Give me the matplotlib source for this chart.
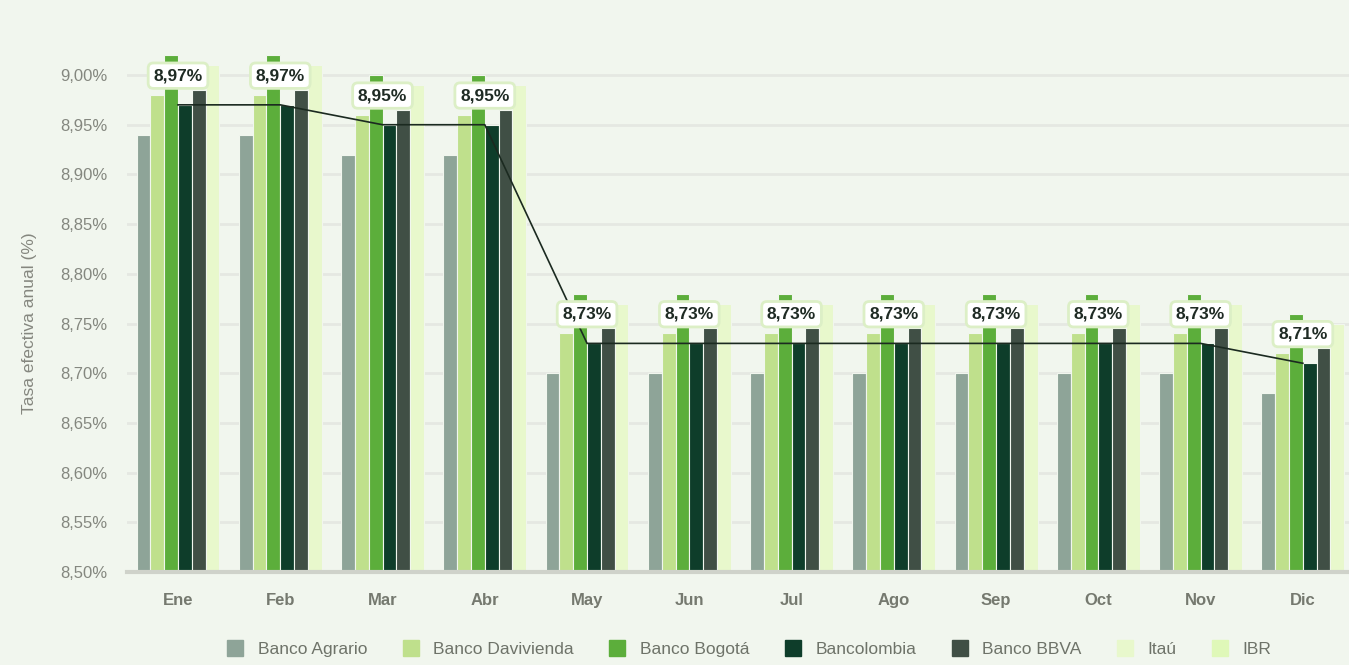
import matplotlib.pyplot as plt
import numpy as np
from matplotlib.lines import Line2D

meses = ['Ene', 'Feb', 'Mar', 'Abr', 'May', 'Jun', 'Jul', 'Ago', 'Sep', 'Oct', 'Nov', 'Dic']

agrario = [8.94, 8.94, 8.92, 8.92, 8.70, 8.70, 8.70, 8.70, 8.70, 8.70, 8.70, 8.68]
davivienda = [8.98, 8.98, 8.96, 8.96, 8.74, 8.74, 8.74, 8.74, 8.74, 8.74, 8.74, 8.72]
bogota = [9.02, 9.02, 9.00, 9.00, 8.78, 8.78, 8.78, 8.78, 8.78, 8.78, 8.78, 8.76]
bancolombia = [8.97, 8.97, 8.95, 8.95, 8.73, 8.73, 8.73, 8.73, 8.73, 8.73, 8.73, 8.71]
bbva = [8.985, 8.985, 8.965, 8.965, 8.745, 8.745, 8.745, 8.745, 8.745, 8.745, 8.745, 8.725]
itau = [9.01, 9.01, 8.99, 8.99, 8.77, 8.77, 8.77, 8.77, 8.77, 8.77, 8.77, 8.75]
ibr = [8.97, 8.97, 8.95, 8.95, 8.73, 8.73, 8.73, 8.73, 8.73, 8.73, 8.73, 8.71]

series = [agrario, davivienda, bogota, bancolombia, bbva, itau]
nombres = ['Banco Agrario', 'Banco Davivienda', 'Banco Bogotá', 'Bancolombia', 'Banco BBVA', 'Itaú']
colores = ['#8ea498', '#bfe08c', '#5cae3b', '#0e3d2a', '#404f45', '#e8f8cc']
color_ibr = '#dff8b8'
bg = '#f1f6ee'

plt.rcParams['font.family'] = ['Liberation Sans', 'DejaVu Sans']

fig = plt.figure(figsize=(13.49, 6.65), dpi=100)
fig.patch.set_facecolor(bg)
ax = fig.add_axes([126.9 / 1349, 93 / 665, (1354 - 126.9) / 1349, (572 - 15.4) / 665])
ax.set_facecolor(bg)

x = np.arange(len(meses))
w = 0.135
for i, (vals, c) in enumerate(zip(series, colores)):
    ax.bar(x + (i - 2.5) * w, np.array(vals) - 8.5, width=w, bottom=8.5, color=c,
           edgecolor=bg, linewidth=0.8, zorder=2)

ax.plot(x, ibr, color='#1b2a20', linewidth=1.2, zorder=3)

for xi, v in zip(x, ibr):
    ax.annotate(f'{v:.2f}%'.replace('.', ','), (xi, v), xytext=(0, 21), textcoords='offset points',
                ha='center', va='center', fontsize=12.5, fontweight='bold', color='#1f2b24', zorder=5,
                bbox=dict(boxstyle='round,pad=0.3,rounding_size=0.3', fc='white', ec='#dcefc6', lw=2))

ax.set_xlim(-0.5, 11.5)
ax.set_ylim(8.5, 9.06)
ticks = np.arange(8.50, 9.001, 0.05)
ax.set_yticks(ticks)
ax.set_yticklabels([f'{t:.2f}%'.replace('.', ',') for t in ticks], fontsize=12, color='#84877f')
ax.set_xticks(x)
ax.set_xticklabels(meses, fontsize=12, fontweight='bold', color='#75796f')
ax.tick_params(axis='y', length=0, pad=14)
ax.tick_params(axis='x', length=0, pad=15)
ax.grid(axis='y', color='#e5e8e2', linewidth=2, zorder=0)
for s in ['top', 'right', 'left']:
    ax.spines[s].set_visible(False)
ax.spines['bottom'].set_color('#cfd2ca')
ax.spines['bottom'].set_linewidth(3)
ax.set_ylabel('Tasa efectiva anual (%)', fontsize=12.5, color='#85877f')
ax.yaxis.set_label_coords(-0.073, 0.447)

handles = [Line2D([], [], marker='s', linestyle='', markersize=12, color=c) for c in colores + [color_ibr]]
fig.legend(handles, nombres + ['IBR'], loc='center', bbox_to_anchor=(0.552, 0.024), ncol=7,
           frameon=False, fontsize=12.5, labelcolor='#6e7369', handletextpad=0.3, columnspacing=1.5)

fig.savefig('out.png', dpi=100, facecolor=bg)
